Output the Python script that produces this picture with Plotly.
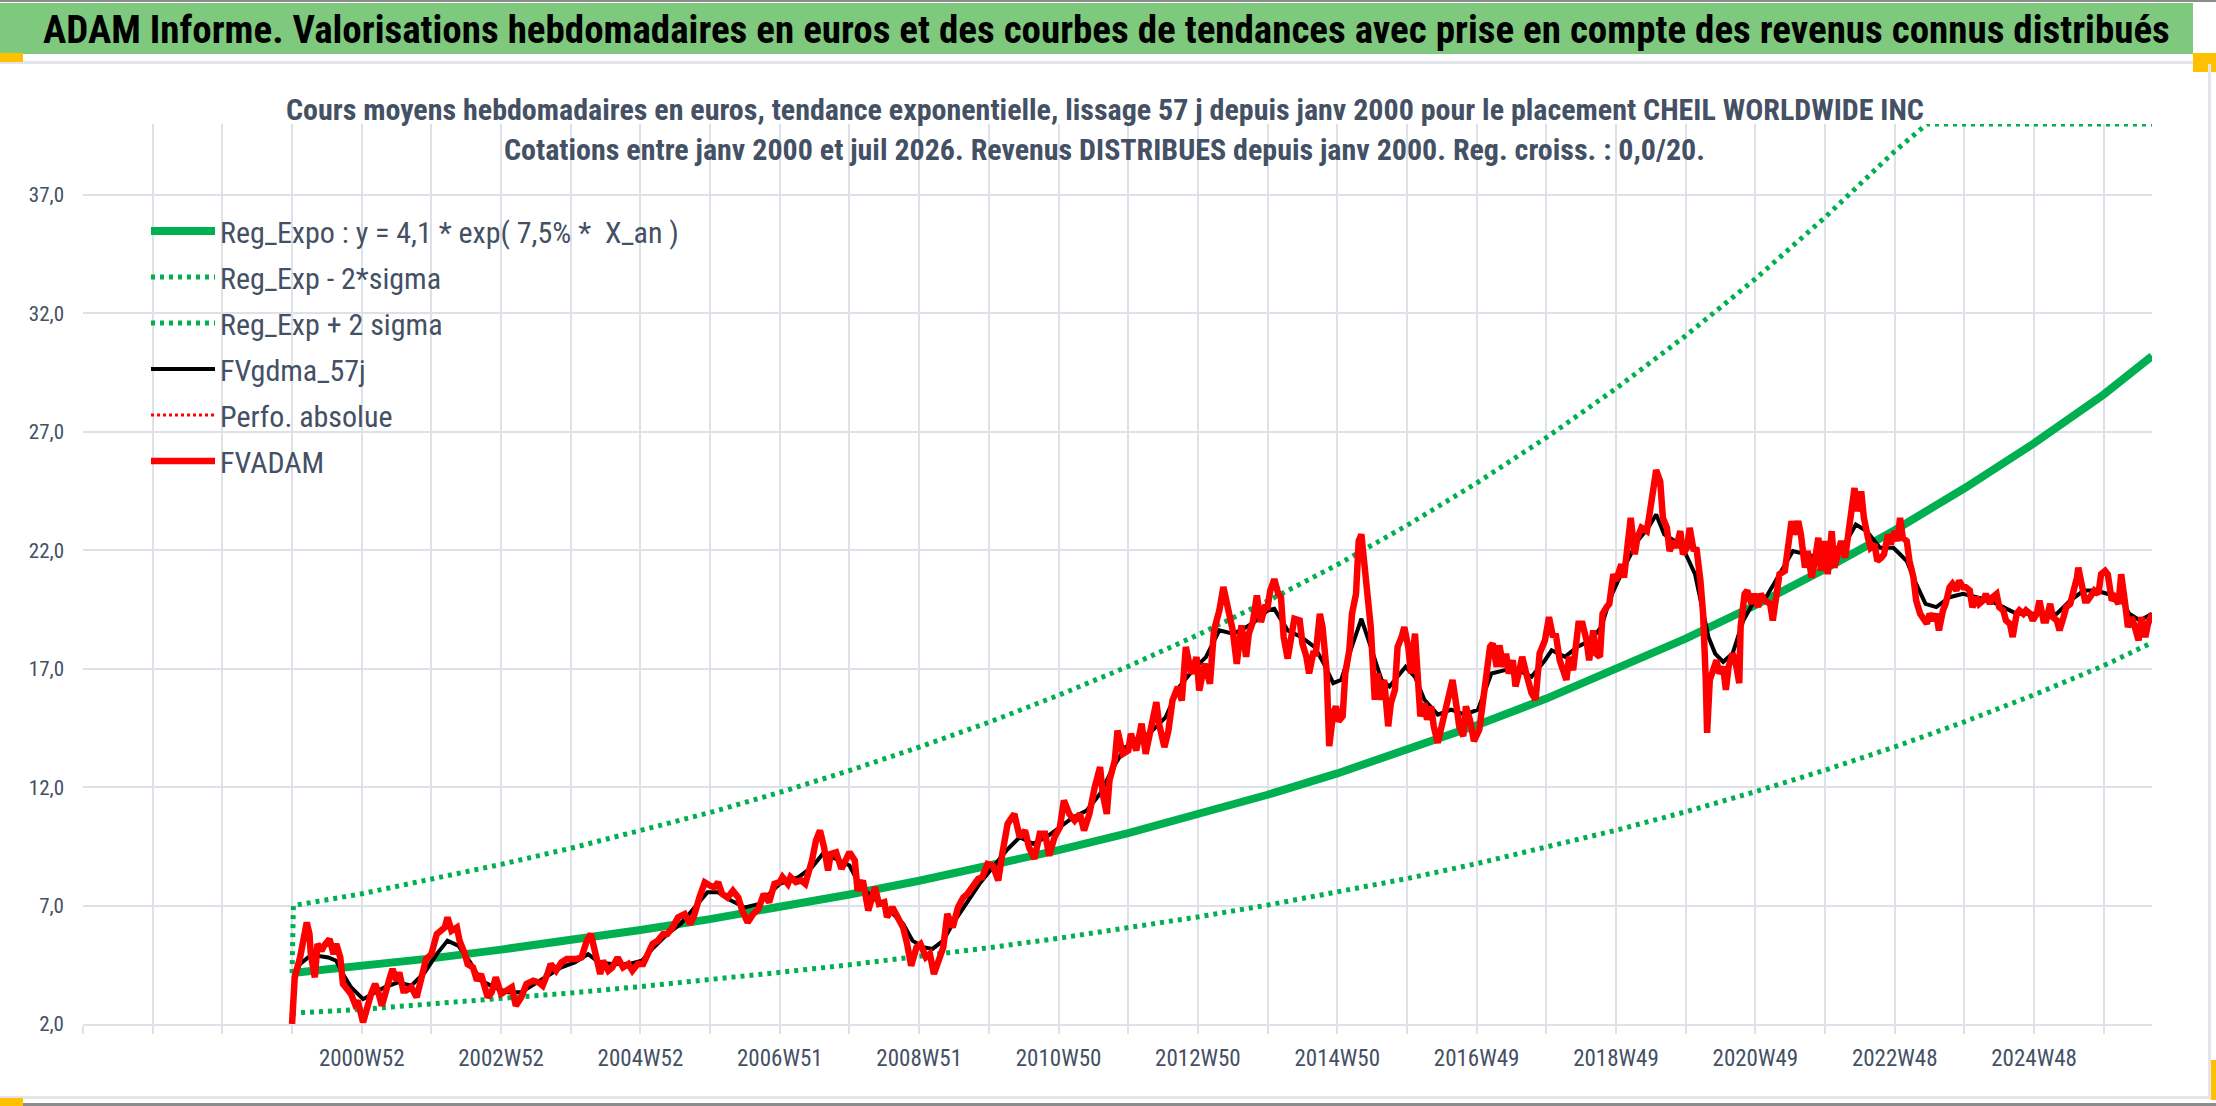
import plotly.graph_objects as go
import numpy as np

# ---------------- data ----------------
# x = week index counted from 2000W01 (52 weeks per category gridline)
grid_weeks = list(range(-156, 1353, 52))
label_weeks = [52, 156, 260, 364, 468, 572, 676, 780, 884, 988, 1092, 1196, 1300]
label_texts = ["2000W52", "2002W52", "2004W52", "2006W51", "2008W51", "2010W50", "2012W50",
               "2014W50", "2016W49", "2018W49", "2020W49", "2022W48", "2024W48"]

y_ticks = [2, 7, 12, 17, 22, 27, 32, 37]
y_tick_texts = ["2,0", "7,0", "12,0", "17,0", "22,0", "27,0", "32,0", "37,0"]

trend_weeks = [0, 52, 104, 156, 208, 260, 312, 364, 416, 468, 520, 572, 624, 676, 728, 780,
               832, 884, 936, 988, 1040, 1092, 1144, 1196, 1248, 1300, 1352, 1388]
reg_values = [4.15, 4.42, 4.77, 5.14, 5.54, 5.97, 6.43, 6.93, 7.47, 8.05, 8.67, 9.34, 10.06, 10.84,
              11.68, 12.58, 13.56, 14.61, 15.74, 16.96, 18.27, 19.68, 21.21, 22.85, 24.62, 26.52,
              28.58, 30.2]
lower_values = [2.46, 2.62, 2.85, 3.07, 3.31, 3.58, 3.86, 4.18, 4.5, 4.85, 5.22, 5.62, 6.05, 6.52,
                7.02, 7.56, 8.14, 8.77, 9.45, 10.18, 10.96, 11.81, 12.72, 13.7, 14.76, 15.9, 17.13,
                18.1]
upper_weeks = [0, 1, 52, 104, 156, 208, 260, 312, 364, 416, 468, 520, 572, 624, 676, 728, 780,
               832, 884, 936, 988, 1040, 1092, 1144, 1196, 1220, 1248, 1300, 1352, 1388]
upper_values = [4.15, 7.0, 7.5, 8.1, 8.74, 9.42, 10.15, 10.93, 11.78, 12.7, 13.69, 14.74, 15.88,
                17.1, 18.43, 19.86, 21.39, 23.05, 24.84, 26.76, 28.83, 31.06, 33.46, 36.06, 38.85,
                40.2, 41.85, 45.08, 48.59, 51.3]

gdma_weeks = [1, 6, 12, 19, 27, 33, 38, 44, 53, 62, 69, 79, 89, 99, 108, 116, 124, 133, 141, 151,
              161, 171, 181, 191, 201, 211, 221, 229, 239, 251, 261, 270, 280, 290, 300, 310, 318,
              328, 338, 348, 364, 378, 388, 396, 406, 416, 423, 433, 446, 456, 463, 471, 478, 486,
              493, 503, 513, 523, 533, 543, 553, 563, 573, 583, 593, 603, 613, 622, 632, 642, 652,
              662, 672, 682, 692, 702, 708, 718, 728, 733, 743, 753, 763, 770, 777, 783, 790, 798,
              805, 813, 819, 825, 831, 838, 845, 855, 865, 875, 885, 895, 905, 915, 925, 935, 940,
              950, 959, 969, 977, 984, 994, 1004, 1012, 1018, 1024, 1032, 1039, 1047, 1052, 1057,
              1062, 1068, 1075, 1083, 1090, 1100, 1110, 1120, 1130, 1140, 1150, 1160, 1167, 1175,
              1185, 1195, 1205, 1212, 1219, 1227, 1237, 1247, 1257, 1267, 1277, 1287, 1297, 1307,
              1317, 1327, 1337, 1346, 1356, 1364, 1371, 1379, 1388]
gdma_values = [3.97, 4.53, 4.81, 4.88, 4.81, 4.67, 4.11, 3.55, 3.05, 3.34, 3.55, 3.76, 3.62, 4.18,
               4.95, 5.52, 5.31, 4.60, 3.83, 3.55, 3.34, 3.34, 3.69, 4.04, 4.39, 4.60, 4.95, 4.60,
               4.53, 4.53, 4.67, 5.24, 5.80, 6.22, 6.92, 7.56, 7.56, 7.20, 6.92, 7.06, 7.92, 8.20,
               8.62, 9.18, 8.97, 8.69, 7.92, 7.35, 6.79, 6.23, 5.52, 5.24, 5.17, 5.52, 6.23, 7.07,
               7.92, 8.62, 9.32, 9.89, 9.61, 9.89, 10.31, 10.73, 11.01, 11.72, 12.85, 13.69, 13.97,
               14.39, 14.96, 16.23, 16.93, 17.49, 18.62, 18.48, 18.62, 18.97, 19.46, 19.53, 18.62,
               18.34, 17.92, 17.22, 16.39, 16.53, 17.78, 19.11, 17.92, 16.53, 16.25, 16.66, 17.08,
               16.66, 15.69, 15.06, 15.27, 15.06, 15.27, 16.80, 16.94, 16.94, 16.66, 17.36, 17.78,
               17.50, 17.92, 18.20, 18.76, 20.02, 21.27, 22.39, 22.95, 23.51, 22.67, 22.39, 21.97,
               20.99, 19.74, 18.34, 17.64, 17.29, 17.64, 19.04, 19.74, 20.02, 20.99, 21.97, 21.83,
               21.69, 21.97, 22.39, 23.09, 22.81, 22.11, 22.11, 21.55, 20.58, 19.74, 19.60, 20.02,
               20.16, 20.02, 19.88, 19.60, 19.32, 19.32, 19.32, 19.32, 19.88, 20.30, 20.30, 20.16,
               20.02, 19.32, 19.04, 19.32]

adam_weeks = [0, 2, 6, 8, 11, 13, 14, 17, 19, 22, 24, 28, 31, 33, 36, 38, 42, 44, 47, 49, 53, 55,
              59, 62, 64, 67, 69, 73, 75, 78, 80, 83, 85, 89, 93, 95, 98, 100, 104, 108, 111, 114,
              116, 119, 123, 125, 129, 131, 135, 138, 141, 144, 146, 149, 152, 156, 160, 164, 167,
              171, 175, 180, 184, 187, 191, 193, 197, 201, 205, 208, 212, 216, 220, 223, 226, 230,
              232, 236, 239, 243, 247, 251, 254, 258, 262, 266, 269, 273, 277, 280, 284, 288, 293,
              297, 300, 304, 308, 312, 315, 318, 321, 325, 329, 333, 336, 340, 344, 348,
              352, 356, 360, 364, 366, 370, 372, 376, 380, 383, 386, 388, 391, 394, 397, 400, 402,
              406, 410, 413, 416, 420, 422, 426, 430, 435, 438, 442, 444, 448, 452, 456, 459, 462,
              466, 469, 473, 476, 479, 482, 486, 489, 493, 497, 501, 504, 508, 512, 515, 519, 523,
              527, 530, 534, 539, 543, 547, 550, 554, 558, 562, 565, 569, 573, 576, 580, 584, 588,
              591, 595, 599, 603, 605, 608, 610, 614, 616, 620, 624, 626, 630, 634, 637, 641, 645,
              647, 651, 654, 657, 661, 664, 667, 671, 675, 677, 681, 685, 688, 692, 695, 698, 702,
              705, 707,
              708.5, 712, 714, 717, 720, 723, 726, 728, 730, 733, 736, 738, 740, 743, 745, 748, 752,
              754, 757, 759, 762, 764, 767, 769, 772, 774, 777, 779, 781, 784, 786, 789, 791, 794,
              796, 798, 800, 803, 805, 808, 810, 813, 815, 818, 820, 823, 825, 828, 830, 833, 835,
              838, 840, 842, 845, 847, 850, 852, 855, 859, 862, 866, 869, 871, 874, 876, 879, 882,
              886, 889, 891, 894, 896, 899, 901, 904, 906, 908, 911, 913, 916, 918, 921, 925, 928,
              931, 935, 938, 941, 943, 946, 948, 951, 953, 956, 960, 963, 966, 968, 971, 973, 976,
              978, 981, 983, 986, 988, 992, 994, 997, 999, 1002, 1004, 1007, 1011, 1013, 1016,
              1018, 1021, 1023, 1026, 1028, 1031, 1033, 1036, 1038, 1041, 1043, 1046, 1048, 1051,
              1053, 1055, 1056,
              1058, 1060, 1063, 1065, 1068, 1070, 1072, 1075, 1077, 1080, 1081, 1084, 1086, 1089,
              1091, 1094, 1096, 1099, 1103, 1105, 1107, 1110, 1114, 1116, 1119, 1121, 1124, 1126,
              1129, 1131, 1134, 1136, 1139, 1141, 1144, 1146, 1149, 1151, 1154, 1156, 1159, 1161,
              1164, 1166, 1168, 1171, 1173, 1176, 1178, 1181, 1183, 1186, 1188, 1191, 1193, 1196,
              1198, 1200, 1202, 1205, 1207, 1210, 1212, 1215, 1217, 1220, 1222, 1225, 1227, 1229,
              1232, 1234, 1237, 1239, 1242, 1244, 1247, 1249, 1252, 1254, 1257, 1259, 1262, 1264,
              1267, 1269, 1272, 1274, 1277, 1279, 1282, 1284, 1287, 1289, 1292, 1294, 1297, 1299,
              1302, 1304, 1307, 1309, 1312, 1314, 1317, 1319, 1322, 1324, 1327, 1329, 1332, 1333,
              1335, 1338, 1340, 1343, 1345, 1348, 1350, 1353, 1355, 1358, 1360, 1363, 1365, 1368,
              1370, 1373, 1375, 1378, 1380, 1383, 1385, 1388]
adam_values = [2.00, 3.97, 4.81, 5.52, 6.29, 5.80, 4.95, 3.97, 5.38, 5.09, 5.31, 5.59, 4.95, 5.38,
               4.81, 3.69, 3.41, 3.27, 2.84, 2.98, 2.07, 2.56, 3.27, 3.69, 3.41, 2.77, 3.27, 3.97,
               4.32, 3.83, 4.18, 3.41, 3.41, 3.55, 3.13, 3.55, 4.39, 4.74, 4.95, 5.80, 5.94, 6.08,
               6.50, 5.94, 6.08, 5.52, 4.95, 4.53, 4.39, 3.83, 4.11, 3.55, 3.13, 3.34, 3.97, 3.27,
               3.41, 3.55, 2.77, 3.13, 3.69, 3.83, 3.76, 3.62, 4.18, 4.53, 4.25, 4.60, 4.74, 4.74,
               4.74, 4.81, 5.52, 5.80, 4.95, 4.11, 4.67, 4.25, 4.39, 4.81, 4.39, 4.53, 4.25, 4.53,
               4.53, 4.95, 5.38, 5.52, 5.80, 5.80, 6.08, 6.50, 6.64, 6.22, 6.57, 7.34, 7.98, 7.84,
               7.77, 7.98, 7.49, 7.34, 7.63, 7.34, 6.78, 6.29, 6.64, 6.85,
               7.49, 7.14, 7.92, 7.99, 8.20, 7.92, 8.20, 7.99, 8.06, 7.92, 8.48, 8.90, 9.75, 10.17,
               9.46, 8.48, 9.18, 9.25, 8.55, 8.90, 9.25, 8.90, 7.63, 8.06, 6.79, 7.77, 7.07, 7.14,
               6.51, 6.93, 6.51, 6.08, 5.38, 4.46, 5.24, 5.38, 4.82, 4.96, 4.11, 4.68, 5.24, 6.65,
               6.08, 6.93, 7.35, 7.49, 7.77, 8.13, 8.20, 8.76, 8.69, 8.06, 9.18, 10.45, 10.87, 9.89,
               10.17, 9.46, 8.97, 10.03, 10.03, 9.11, 9.89, 10.31, 11.44, 10.87, 10.59, 10.87,
               10.17, 10.87, 12.00, 12.85, 11.72, 10.87, 12.28, 13.13, 14.39, 13.41, 13.55, 14.25,
               13.55, 14.68, 13.41, 14.54, 15.59, 14.68, 13.69, 14.39, 15.66, 16.23, 15.66, 17.92,
               16.79, 17.49, 16.08, 17.21, 16.37, 18.62, 19.46, 20.45, 19.61, 18.62, 17.21, 18.62,
               18.83, 17.50, 18.48, 18.97, 20.09, 18.97, 19.60, 19.60, 20.30, 20.78, 20.16, 20.02,
               18.34, 17.43, 18.20, 19.11, 19.04, 18.06, 17.50, 16.80, 17.64, 17.64, 19.32, 18.76,
               16.94, 13.73, 15.13, 15.41, 14.78, 14.99, 16.80, 17.78, 19.32, 20.16, 22.39, 22.67,
               21.55, 19.74, 18.76, 15.69, 16.80, 15.69, 16.53, 14.57, 15.55, 16.11, 17.92, 18.34,
               18.76, 17.92, 16.80, 18.48, 16.80, 14.99, 15.55, 14.85, 15.41, 14.57, 13.87, 14.85,
               15.69, 16.53, 15.41, 14.57, 14.15, 15.41, 14.85, 13.94, 14.43, 15.69, 16.80, 17.92,
               18.06, 17.08, 17.99, 17.08, 17.64, 16.80, 17.36, 16.25, 16.94, 17.50, 16.80, 15.97,
               15.69, 17.64, 18.20, 19.18, 18.34, 18.48, 17.36, 16.94, 16.53, 17.50, 16.94, 18.90,
               18.90, 18.20, 17.36, 18.62, 17.64, 17.50, 19.32, 19.60, 19.74, 20.99, 20.72, 21.41,
               20.85, 22.39, 23.37, 21.83, 22.53, 22.95, 22.81, 23.51, 24.77, 25.39, 24.91, 23.37,
               22.95, 21.97, 22.39, 22.11, 22.81, 21.83, 22.11, 22.95, 21.97, 22.11, 20.72, 19.32,
               16.53, 14.29,
               16.53, 16.94, 17.36, 16.80, 17.08, 16.11, 17.08, 17.64, 17.36, 16.39, 18.76, 20.16,
               20.30, 19.74, 20.16, 19.60, 20.16, 19.88, 19.74, 19.04, 20.02, 20.99, 21.13, 21.97,
               23.23, 22.67, 23.23, 22.67, 21.27, 21.97, 20.85, 21.41, 22.53, 21.13, 22.39, 20.99,
               22.81, 21.27, 22.11, 22.39, 21.69, 22.39, 23.79, 24.63, 23.65, 24.49, 23.37, 22.53,
               22.11, 22.25, 21.55, 21.69, 21.83, 22.67, 22.25, 22.81, 22.39, 23.37, 22.53, 22.39,
               21.55, 20.85, 19.88, 19.32, 19.18, 18.90, 19.32, 19.04, 19.32, 18.62, 19.46, 19.74,
               20.44, 20.58, 20.30, 20.72, 20.44, 20.44, 20.30, 19.60, 20.02, 19.74, 19.88, 20.16,
               19.74, 20.02, 20.16, 19.60, 19.46, 19.04, 18.90, 18.34, 19.32, 19.46, 19.32, 19.46,
               19.32, 19.04, 19.32, 19.88, 19.04, 19.04, 19.74, 19.18, 19.04, 18.62, 19.18, 19.60,
               19.74, 20.16, 20.85, 21.27, 20.72, 19.88, 19.88, 20.16, 20.30, 20.16, 20.99, 21.13,
               20.99, 19.88, 20.02, 19.74, 20.99, 19.74, 18.76, 19.18, 18.76, 18.20, 19.18, 18.34,
               18.90, 19.32]

assert len(gdma_weeks) == len(gdma_values), (len(gdma_weeks), len(gdma_values))
assert len(adam_weeks) == len(adam_values), (len(adam_weeks), len(adam_values))
assert len(trend_weeks) == len(reg_values) == len(lower_values)
assert len(upper_weeks) == len(upper_values)

# ---------------- styling ----------------
FONT = "Liberation Sans Narrow, Arial Narrow, Roboto Condensed, sans-serif"
TXT = "#445064"
GRID = "#DEE2E8"
GREEN = "#00B050"
Y_MIN, Y_MAX = 2, 40
X_MIN, X_MAX = -156, 1388

W, H = 2216, 1106
L, R, T, B = 83, 2152, 124, 1024  # plot area in pixels


def fx(px):
    return (px - L) / (R - L)


def fy(py):
    return (B - py) / (B - T)


DOT = "4px,5px"

fig = go.Figure()
fig.add_trace(go.Scatter(x=trend_weeks, y=reg_values, mode="lines",
                         name="Reg_Expo : y = 4,1 * exp( 7,5% *  X_an )",
                         line=dict(color=GREEN, width=8), legendgroup="a"))
fig.add_trace(go.Scatter(x=trend_weeks, y=lower_values, mode="lines", name="Reg_Exp - 2*sigma",
                         line=dict(color=GREEN, width=5, dash=DOT), legendgroup="b"))
fig.add_trace(go.Scatter(x=upper_weeks, y=np.minimum(upper_values, Y_MAX), mode="lines",
                         name="Reg_Exp + 2 sigma",
                         line=dict(color=GREEN, width=5, dash=DOT), legendgroup="c"))
fig.add_trace(go.Scatter(x=gdma_weeks, y=gdma_values, mode="lines", name="FVgdma_57j",
                         line=dict(color="#000000", width=4), legendgroup="d"))
fig.add_trace(go.Scatter(x=[None], y=[None], mode="lines", name="Perfo. absolue",
                         line=dict(color="#FF0000", width=3, dash="3px,3px"), legendgroup="e"))
fig.add_trace(go.Scatter(x=adam_weeks, y=adam_values, mode="lines", name="FVADAM",
                         line=dict(color="#FF0000", width=6.5), legendgroup="f"))

tick_text = [label_texts[label_weeks.index(w)] if w in label_weeks else "" for w in grid_weeks]

fig.update_xaxes(range=[X_MIN, X_MAX], tickmode="array", tickvals=grid_weeks, ticktext=tick_text,
                 showgrid=True, gridcolor=GRID, gridwidth=2, ticks="outside", ticklen=8,
                 tickwidth=2, tickcolor=GRID, showline=True, linecolor=GRID, linewidth=2,
                 zeroline=False, tickfont=dict(family=FONT, size=23, color=TXT),
                 ticklabelstandoff=4, fixedrange=True)
fig.update_yaxes(range=[Y_MIN, Y_MAX], tickmode="array", tickvals=y_ticks, ticktext=y_tick_texts,
                 showgrid=True, gridcolor=GRID, gridwidth=2, ticks="", zeroline=False,
                 showline=False, tickfont=dict(family=FONT, size=21, color=TXT),
                 ticklabelstandoff=18, fixedrange=True)

shapes = [
    # title band
    dict(type="rect", xref="paper", yref="paper", x0=fx(0), x1=fx(2193), y0=fy(54), y1=fy(3),
         fillcolor="#7FC97F", line=dict(width=0), layer="above"),
    dict(type="rect", xref="paper", yref="paper", x0=fx(0), x1=fx(2216), y0=fy(2), y1=fy(0),
         fillcolor="#8C8C8C", line=dict(width=0), layer="above"),
    dict(type="rect", xref="paper", yref="paper", x0=fx(0), x1=fx(2216), y0=fy(64), y1=fy(61),
         fillcolor="#E3E5EA", line=dict(width=0), layer="above"),
    dict(type="rect", xref="paper", yref="paper", x0=fx(0), x1=fx(23), y0=fy(62), y1=fy(53),
         fillcolor="#FFC000", line=dict(width=0), layer="above"),
    dict(type="rect", xref="paper", yref="paper", x0=fx(2193), x1=fx(2216), y0=fy(72), y1=fy(53),
         fillcolor="#FFC000", line=dict(width=0), layer="above"),
    dict(type="rect", xref="paper", yref="paper", x0=fx(2208), x1=fx(2211), y0=fy(1097), y1=fy(64),
         fillcolor="#E3E5EA", line=dict(width=0), layer="above"),
    # bottom frame
    dict(type="rect", xref="paper", yref="paper", x0=fx(0), x1=fx(2216), y0=fy(1099), y1=fy(1096),
         fillcolor="#E3E5EA", line=dict(width=0), layer="above"),
    dict(type="rect", xref="paper", yref="paper", x0=fx(0), x1=fx(2216), y0=fy(1106), y1=fy(1103),
         fillcolor="#8C8C8C", line=dict(width=0), layer="above"),
    dict(type="rect", xref="paper", yref="paper", x0=fx(0), x1=fx(23), y0=fy(1106), y1=fy(1098),
         fillcolor="#FFC000", line=dict(width=0), layer="above"),
    dict(type="rect", xref="paper", yref="paper", x0=fx(2211), x1=fx(2216), y0=fy(1100), y1=fy(1060),
         fillcolor="#FFC000", line=dict(width=0), layer="above"),
    # white box behind the chart title (hides the grid)
    dict(type="rect", xref="paper", yref="paper", x0=fx(285), x1=fx(1925), y0=fy(173), y1=fy(120),
         fillcolor="#FFFFFF", line=dict(width=0), layer="between"),
]

annotations = [
    dict(text="<b>ADAM Informe. Valorisations hebdomadaires en euros et des courbes de tendances avec prise en compte des revenus connus distribués</b>",
         xref="paper", yref="paper", x=fx(1106), y=fy(30), xanchor="center", yanchor="middle",
         showarrow=False, font=dict(family=FONT, size=39, color="#000000")),
    dict(text="<b>Cours moyens hebdomadaires en euros, tendance exponentielle, lissage 57 j depuis janv 2000 pour le placement CHEIL WORLDWIDE INC</b>",
         xref="paper", yref="paper", x=fx(1105), y=fy(109), xanchor="center", yanchor="middle",
         showarrow=False, font=dict(family=FONT, size=30, color=TXT)),
    dict(text="<b>Cotations entre janv 2000 et juil 2026. Revenus DISTRIBUES depuis janv 2000. Reg. croiss. : 0,0/20.</b>",
         xref="paper", yref="paper", x=fx(1104), y=fy(150), xanchor="center", yanchor="middle",
         showarrow=False, font=dict(family=FONT, size=30, color=TXT)),
]

fig.update_layout(
    width=W, height=H,
    margin=dict(l=L, r=W - R, t=T, b=H - B, pad=0),
    paper_bgcolor="#FFFFFF", plot_bgcolor="#FFFFFF",
    font=dict(family=FONT, color=TXT),
    shapes=shapes, annotations=annotations,
    showlegend=True,
    legend=dict(x=fx(146), y=fy(205), xanchor="left", yanchor="top", bgcolor="rgba(0,0,0,0)",
                font=dict(family=FONT, size=30, color=TXT), traceorder="grouped",
                tracegroupgap=4, itemwidth=64),
)

fig.write_html("out.html", include_plotlyjs=True, full_html=True,
               config=dict(displayModeBar=False, staticPlot=True),
               post_script="document.body.style.margin='0';document.body.style.overflow='hidden';")
